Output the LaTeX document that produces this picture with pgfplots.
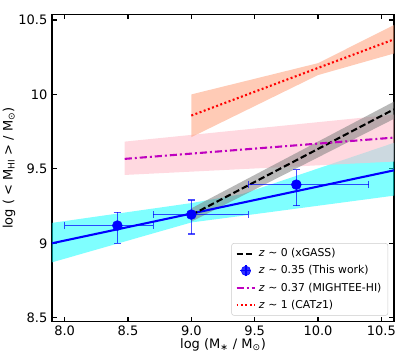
\documentclass[border=0pt]{standalone}
\usepackage{fontspec}
\setmainfont{DejaVu Sans}
\usepackage{pgfplots}
\pgfplotsset{compat=1.18}
\definecolor{salmonc}{HTML}{FFA07A}
\definecolor{pinkc}{HTML}{FFC0CB}
\definecolor{cyanc}{rgb}{0,1,1}
\definecolor{grayc}{rgb}{0.5,0.5,0.5}
\definecolor{mplm}{rgb}{0.75,0,0.75}
\definecolor{blueb}{rgb}{0,0,1}
\definecolor{redr}{rgb}{1,0,0}
\begin{document}
\begin{tikzpicture}
\begin{axis}[
 name=ax, scale only axis, width=263.1pt, height=236.7pt,
 xmin=7.9, xmax=10.6, ymin=8.473, ymax=10.54,
 xtick={8,8.5,9,9.5,10,10.5}, ytick={8.5,9,9.5,10,10.5},
 xticklabel style={/pgf/number format/.cd, fixed, fixed zerofill, precision=1},
 yticklabel style={/pgf/number format/.cd, fixed, precision=1},
 /pgf/number format/assume math mode=true,
 tick align=inside, xtick pos=both, ytick pos=both,
 major tick length=3.5pt, minor tick num=0,
 every tick/.style={black, line width=0.8pt},
 axis line style={line width=0.8pt},
 tick label style={font=\fontsize{10}{12}\selectfont},
 label style={font=\fontsize{10}{12}\selectfont},
 every axis x label/.style={at={(rel axis cs:0.5,-0.0757)}, anchor=center},
 every axis y label/.style={at={(rel axis cs:-0.1257,0.5)}, anchor=center, rotate=90},
 xlabel={log (M\textsubscript{∗} / M\textsubscript{⊙})},
 ylabel={log ( < M\textsubscript{HI} > / M\textsubscript{⊙})},
 legend style={at={(0.983,0.0195)}, anchor=south east, font=\fontsize{8.33}{10}\selectfont,
   draw=black!20, rounded corners=2pt, fill=white, fill opacity=0.8, text opacity=1,
   inner xsep=3pt, inner ysep=2pt, row sep=1.4pt},
 legend cell align=left,
 legend image code/.code={\draw[#1] (0pt,0pt) -- (14.5pt,0pt);},
]
% bands
\addplot[draw=none, fill=cyanc, fill opacity=0.5, forget plot] coordinates {
 (7.9,9.137) (9.0,9.27) (9.4,9.33) (10.6,9.675)
 (10.6,9.32) (9.45,9.19) (9.0,9.14) (7.9,8.872)} -- cycle;
\addplot[draw=none, fill=pinkc, fill opacity=0.6, forget plot] coordinates {
 (8.474,9.683) (10.6,9.865) (10.6,9.549) (8.474,9.459)} -- cycle;
\addplot[draw=none, fill=grayc, fill opacity=0.55, forget plot] coordinates {
 (9.0,9.235) (10.6,9.952) (10.6,9.836) (9.0,9.145)} -- cycle;
\addplot[draw=none, fill=salmonc, fill opacity=0.55, forget plot] coordinates {
 (9.0,10.0) (10.0,10.21) (10.6,10.466) (10.6,10.275) (10.0,10.13) (9.0,9.713)} -- cycle;
% lines
\addplot[blueb, line width=1.6pt, forget plot] coordinates {(7.9,9.0) (10.6,9.49)};
\addplot[black, line width=1.6pt, dash pattern=on 5pt off 2.3pt] coordinates {(9.0,9.19) (10.6,9.9)};
\addlegendentry{\textit{z} ∼ 0 (xGASS)}
\addplot[blueb, only marks, mark=*, mark size=3.8pt,
  legend image code/.code={\draw[blueb, line width=1pt] (3pt,0pt)--(11.5pt,0pt) (7.25pt,-4.2pt)--(7.25pt,4.2pt); \fill[blueb] (7.25pt,0pt) circle (3.6pt);},
  error bars/.cd, x dir=both, x explicit, y dir=both, y explicit,
  error bar style={blueb, line width=1pt, opacity=0.7},
  error mark options={rotate=90, mark size=2.8pt, blueb, line width=1pt, opacity=0.7}]
  coordinates {
  (8.416,9.119) += (0.284,0.089) -= (0.416,0.119)
  (9.0,9.193) += (0.45,0.097) -= (0.30,0.13)
  (9.829,9.394) += (0.571,0.101) -= (0.379,0.141)
  };
\addlegendentry{\textit{z} ∼ 0.35 (This work)}
\addplot[mplm, line width=1.6pt, dash pattern=on 5.5pt off 2.3pt on 1.5pt off 2.3pt] coordinates {(8.474,9.567) (10.6,9.71)};
\addlegendentry{\textit{z} ∼ 0.37 (MIGHTEE-HI)}
\addplot[redr, line width=1.6pt, dash pattern=on 1.5pt off 1.9pt] coordinates {(9.0,9.858) (10.6,10.37)};
\addlegendentry{\textit{z} ∼ 1 (CAT\textit{z}1)}
\end{axis}
\pgfresetboundingbox
\path ([shift={(-40pt,-27.2pt)}]ax.south west) rectangle ([shift={(12.3pt,10.8pt)}]ax.north east);
\end{tikzpicture}
\end{document}
